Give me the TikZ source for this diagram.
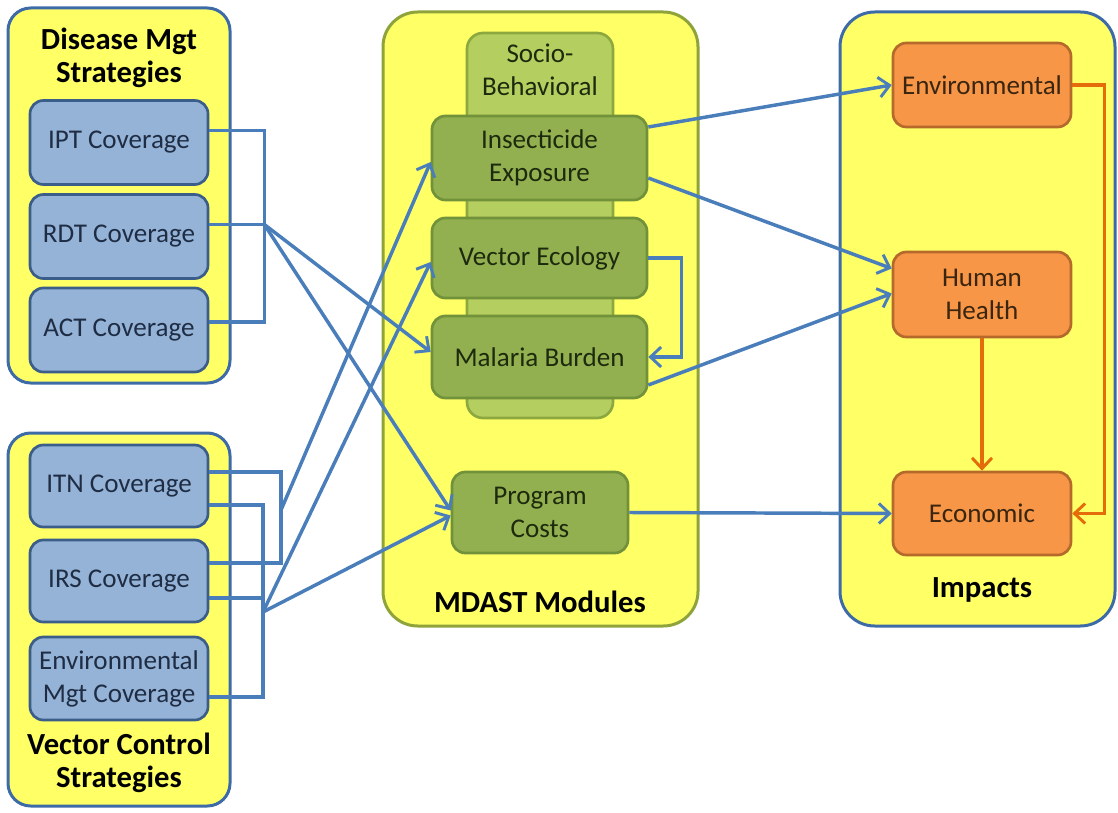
\documentclass[tikz,border=0pt]{standalone}
\usepackage{fontspec}
\setmainfont{Carlito}
\usetikzlibrary{arrows.meta,calc}
\definecolor{yel}{HTML}{FFFF66}
\definecolor{bluec}{HTML}{3D6BA8}
\definecolor{greenc}{HTML}{8EA33A}
\definecolor{bfill}{HTML}{95B3D7}
\definecolor{bdraw}{HTML}{3B5D8A}
\definecolor{gfill}{HTML}{92B04F}
\definecolor{gdraw}{HTML}{71923A}
\definecolor{sfill}{HTML}{B5CE60}
\definecolor{sdraw}{HTML}{8CA83E}
\definecolor{ofill}{HTML}{F79646}
\definecolor{odraw}{HTML}{B56A2C}
\definecolor{cblue}{HTML}{4A7EBB}
\definecolor{corange}{HTML}{E46C0A}
\definecolor{tblue}{HTML}{1F2D44}
\definecolor{tgreen}{HTML}{1E2A0E}
\definecolor{torange}{HTML}{3A2510}
\begin{document}
\begin{tikzpicture}[x=0.75pt,y=-0.75pt,
  cont/.style={draw=#1, line width=2.25pt, fill=yel, rounded corners=17pt},
  bbox/.style={draw=bdraw, fill=bfill, line width=2pt, rounded corners=10pt, align=center, text=tblue, font=\fontsize{20.3}{24.75}\selectfont, minimum width=178*0.75pt, minimum height=84*0.75pt, inner sep=0pt},
  gbox/.style={draw=gdraw, fill=gfill, line width=2pt, rounded corners=10pt, align=center, text=tgreen, font=\fontsize{20.3}{24.75}\selectfont, minimum width=215*0.75pt, inner sep=0pt},
  obox/.style={draw=odraw, fill=ofill, line width=2pt, rounded corners=10pt, align=center, text=torange, font=\fontsize{20.3}{24.75}\selectfont, minimum width=178*0.75pt, inner sep=0pt},
  title/.style={align=center, font=\fontsize{23}{24.75}\selectfont\bfseries, text=black, inner sep=0pt},
  ln/.style={draw=cblue, line width=2.6pt},
  arr/.style={draw=cblue, line width=2.6pt, -{Straight Barb[length=8pt,width=15pt,line width=2.2pt]}},
  oarr/.style={draw=corange, line width=2.6pt, -{Straight Barb[length=8pt,width=15pt,line width=2.2pt]}}
]
\useasboundingbox (0,0) rectangle (1118,813);
\fill[white] (0,0) rectangle (1118,813);

% containers
\node[cont=bluec, minimum width=222*0.75pt, minimum height=375*0.75pt] (dm) at (119,195.5) {};
\node[cont=bluec, minimum width=222*0.75pt, minimum height=373*0.75pt] (vc) at (119,619.5) {};
\node[cont=greenc, rounded corners=26pt, minimum width=315*0.75pt, minimum height=614*0.75pt] (md) at (540.5,319) {};
\node[cont=bluec, rounded corners=26pt, minimum width=275*0.75pt, minimum height=614*0.75pt] (im) at (977.5,319) {};

% titles
\node[title] (dmt) at (119,58) {Disease Mgt\\Strategies};
\node[title] (vct) at (119,763) {Vector Control\\Strategies};
\node[title] (mdt) at (540,602) {MDAST Modules};
\node[title] (imt) at (982,590) {Impacts};

% left boxes
\node[bbox] (ipt) at (119,142.5) {IPT Coverage};
\node[bbox] (rdt) at (119,236.5) {RDT Coverage};
\node[bbox] (act) at (119,330) {ACT Coverage};
\node[bbox, minimum height=82*0.75pt] (itn) at (119,486) {ITN Coverage};
\node[bbox, minimum height=82*0.75pt] (irs) at (119,581) {IRS Coverage};
\node[bbox, minimum height=83*0.75pt] (env) at (119,678.5) {Environmental\\Mgt Coverage};

% middle
\node[draw=sdraw, fill=sfill, line width=2pt, rounded corners=12pt, minimum width=146*0.75pt, minimum height=385*0.75pt] (sb) at (540,225.5) {};
\node[align=center, text=tgreen, font=\fontsize{20.3}{24.75}\selectfont, inner sep=0pt] (sbt) at (540,70) {Socio-\\Behavioral};
\node[gbox, minimum height=84*0.75pt] (ins) at (539.5,158) {Insecticide\\Exposure};
\node[gbox, minimum height=80*0.75pt] (vec) at (539.5,258) {Vector Ecology};
\node[gbox, minimum height=82*0.75pt] (mal) at (539.5,357) {Malaria Burden};
\node[gbox, minimum width=176*0.75pt, minimum height=81*0.75pt] (prog) at (540,512.5) {Program\\Costs};

% right
\node[obox, minimum height=84*0.75pt] (envi) at (982,85) {Environmental};
\node[obox, minimum height=85*0.75pt] (hh) at (982,294.5) {Human\\Health};
\node[obox, minimum height=83*0.75pt] (econ) at (982,513.5) {Economic};

% junctions
\coordinate (rdtL) at ($(rdt.east)+(0,-12)$);
\coordinate (jA) at ($(rdtL)+(55,0)$);
\coordinate (jB) at (281,510);
\coordinate (jC) at (263,612);
\coordinate (irsL) at ($(irs.east)+(0,17)$);

% disease bracket
\draw[ln] ($(ipt.east)+(0,-12)$) -| (jA) |- ($(act.east)+(0,-8)$);
\draw[ln] (rdtL) -- (jA);
% vector brackets
\draw[ln] ($(itn.east)+(0,-14)$) -| (jB) |- ($(irs.east)+(0,-18)$);
\draw[ln] ($(itn.east)+(0,19)$) -| (jC) |- ($(env.east)+(0,18.5)$);
\draw[ln] (irsL) -- (irsL -| jC);

% arrows into modules
\draw[arr] (jA) -- ($(mal.west)+(0,-5)$);
\draw[arr] (jA) -- ($(prog.west)+(0,-2)$);
\draw[arr] (jB) -- ($(ins.west)+(0,4)$);
\draw[arr] (jC) -- ($(vec.west)+(0,4)$);
\draw[arr] (jC) -- ($(prog.west)+(0,3)$);

% arrows to impacts
\draw[arr] ($(ins.east)+(0,-31)$) -- (envi.west);
\draw[arr] ($(ins.east)+(0,20)$) -- ($(hh.west)+(0,-26)$);
\draw[arr] ($(mal.east)+(0,28)$) -- ($(hh.west)+(0,-1)$);
\draw[arr] (vec.east) -- ++(33,0) |- (mal.east);
\draw[arr] (prog.east) -- (econ.west);
\draw[oarr] (hh.south) -- (econ.north);
\draw[oarr] (envi.east) -- ++(32,0) |- (econ.east);
\end{tikzpicture}
\end{document}
